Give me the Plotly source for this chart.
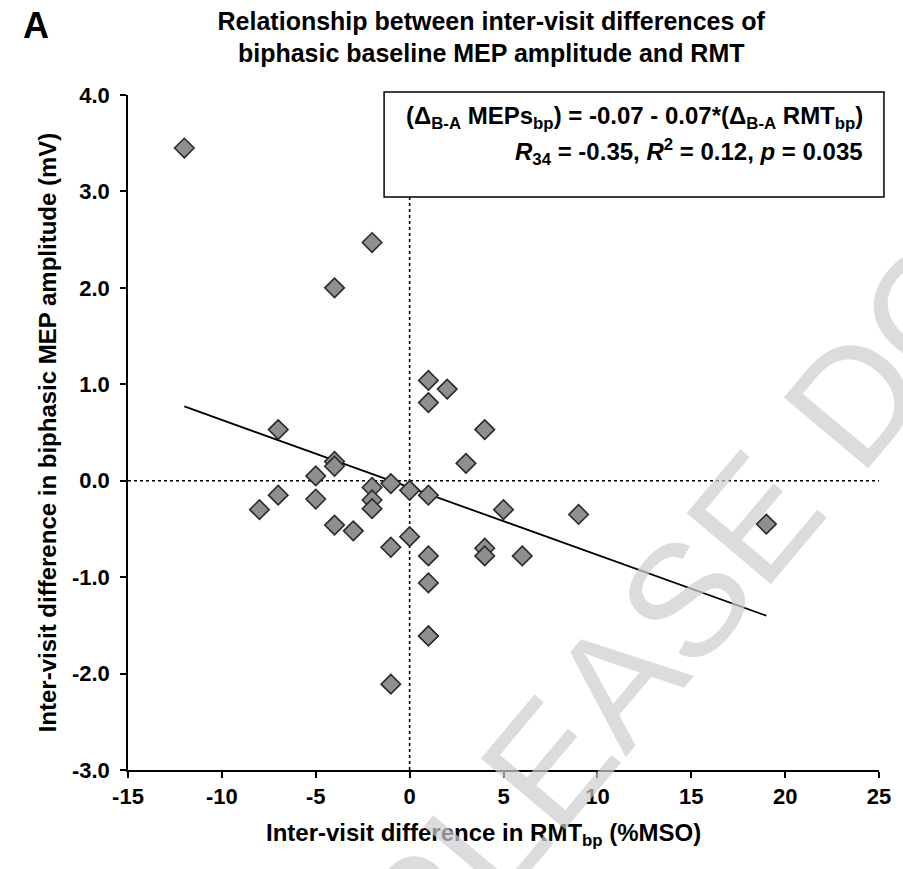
import plotly.graph_objects as go

# Data: inter-visit differences (RMT_bp in %MSO, MEP amplitude in mV)
rmt_diff = [-12, -2, -4, 1, 2, 1, 4, -7, 3, -4, -4, -5, -7, -8, -5, -2, -2, -2,
            -1, 0, 1, 5, -4, -3, 0, -1, 1, 4, 4, 1, 1, 1, -1, 9, 19, 6]
mep_diff = [3.45, 2.47, 2.0, 1.04, 0.95, 0.81, 0.53, 0.53, 0.18, 0.2, 0.15, 0.05,
            -0.15, -0.3, -0.19, -0.07, -0.2, -0.29, -0.03, -0.1, -0.15, -0.3,
            -0.46, -0.52, -0.58, -0.69, -0.78, -0.70, -0.78, -1.06, -1.61, -1.61,
            -2.11, -0.35, -0.45, -0.78]

intercept = -0.07
slope = -0.07

x_ticks = [-15, -10, -5, 0, 5, 10, 15, 20, 25]
y_ticks = [-3, -2, -1, 0, 1, 2, 3, 4]

FONT = "Arial, 'Liberation Sans', sans-serif"

fig = go.Figure()

x_line = [min(rmt_diff), max(rmt_diff)]
y_line = [intercept + slope * v for v in x_line]
fig.add_trace(go.Scatter(x=x_line, y=y_line, mode="lines",
                         line=dict(color="black", width=1.8),
                         hoverinfo="skip", showlegend=False))

fig.add_trace(go.Scatter(
    x=rmt_diff, y=mep_diff, mode="markers",
    marker=dict(symbol="diamond", size=15, color="#8f8f8f",
                line=dict(color="#2b2b2b", width=1.6)),
    showlegend=False))

# Dotted reference lines
fig.add_shape(type="line", xref="x", yref="y", x0=0, x1=0, y0=-3, y1=4,
              line=dict(color="black", width=1.6, dash="dot"), layer="below")
fig.add_shape(type="line", xref="x", yref="y", x0=-15, x1=25, y0=0, y1=0,
              line=dict(color="black", width=1.6, dash="dot"), layer="below")

# Equation box
fig.add_shape(type="rect", xref="paper", yref="paper",
              x0=0.341, x1=1.0066, y0=0.849, y1=1.0044,
              line=dict(color="black", width=1.5), fillcolor="white", layer="above")

fig.add_annotation(xref="paper", yref="paper", x=0.9816, y=0.966,
                   xanchor="right", yanchor="middle", showarrow=False,
                   text="(Δ<sub>B-A</sub> MEPs<sub>bp</sub>) = -0.07 - 0.07*(Δ<sub>B-A</sub> RMT<sub>bp</sub>)",
                   font=dict(family=FONT, size=24, color="black", weight="bold"))
fig.add_annotation(xref="paper", yref="paper", x=0.9816, y=0.9155,
                   xanchor="right", yanchor="middle", showarrow=False,
                   text="<i>R</i><sub>34</sub> = -0.35, <i>R</i><sup>2</sup> = 0.12, <i>p</i> = 0.035",
                   font=dict(family=FONT, size=24, color="black", weight="bold"))

# Panel letter
fig.add_annotation(xref="paper", yref="paper", x=-0.1225, y=1.1037,
                   xanchor="center", yanchor="middle", showarrow=False, text="A",
                   font=dict(family=FONT, size=36, color="black", weight="bold"))

# X-axis title (placed as annotation for exact horizontal position)
fig.add_annotation(xref="paper", yref="paper", x=0.473, y=-0.095,
                   xanchor="center", yanchor="middle", showarrow=False,
                   text="Inter-visit difference in RMT<sub>bp</sub> (%MSO)",
                   font=dict(family=FONT, size=24, color="black", weight="bold"))

# Watermark
fig.add_annotation(xref="paper", yref="paper", x=1.11, y=0.74,
                   xanchor="center", yanchor="middle", showarrow=False,
                   text="PLEASE DO NOT COPY", textangle=-50,
                   font=dict(family=FONT, size=160, color="rgba(205,205,205,0.7)"))

fig.update_layout(
    width=903, height=869,
    margin=dict(l=128, r=16, t=95, b=99),
    paper_bgcolor="white", plot_bgcolor="white",
    title=dict(text="Relationship between inter-visit differences of<br>biphasic baseline MEP amplitude and RMT",
               x=0.544, xanchor="center", y=0.966, yanchor="middle",
               font=dict(family=FONT, size=25, color="black", weight="bold")),
    font=dict(family=FONT, color="black"),
)

fig.update_xaxes(range=[-15, 25], tickvals=x_ticks, ticktext=[str(v) for v in x_ticks],
                 showgrid=False, zeroline=False, showline=True, linecolor="black",
                 linewidth=1.6, ticks="outside", ticklen=6, tickwidth=1.6, tickcolor="black",
                 tickfont=dict(family=FONT, size=22, color="black", weight="bold"))
fig.update_yaxes(range=[-3, 4], tickvals=y_ticks, ticktext=[f"{v:.1f}" for v in y_ticks],
                 showgrid=False, zeroline=False, showline=True, linecolor="black",
                 linewidth=1.6, ticks="outside", ticklen=6, tickwidth=1.6, tickcolor="black",
                 ticklabelstandoff=6,
                 tickfont=dict(family=FONT, size=22, color="black", weight="bold"),
                 title=dict(text="Inter-visit difference in biphasic MEP amplitude (mV)",
                            font=dict(family=FONT, size=24, color="black", weight="bold"),
                            standoff=8))

fig.write_html("out.html")
